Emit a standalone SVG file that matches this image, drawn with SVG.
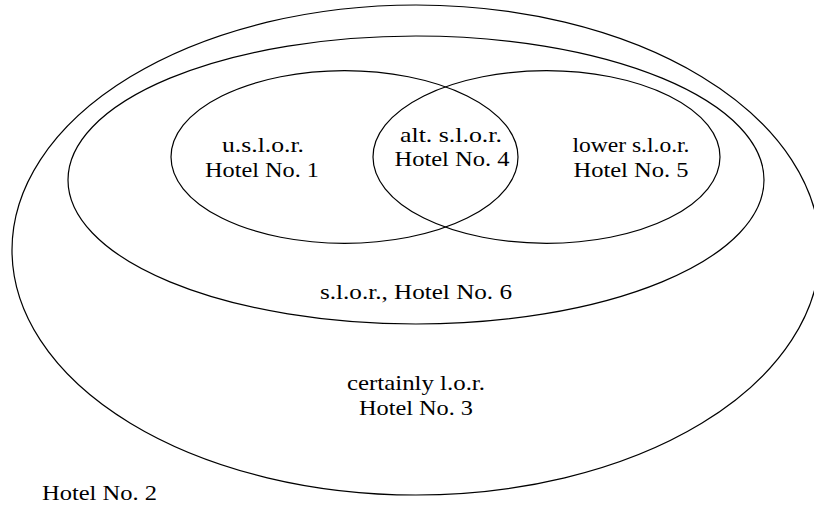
<svg xmlns="http://www.w3.org/2000/svg" width="814" height="509" viewBox="0 0 814 509">
<style>
.set{fill:none;stroke:#000;stroke-width:1.2}
.lbl{font-family:"Liberation Serif","DejaVu Serif",serif;font-size:21px;fill:#000;text-anchor:middle}
.lbl-start{font-family:"Liberation Serif","DejaVu Serif",serif;font-size:21px;fill:#000;text-anchor:start}
</style>
<rect x="0" y="0" width="814" height="509" fill="#fff"/>
<g id="hotel2">
<text class="lbl-start" x="42" y="500" textLength="115" lengthAdjust="spacingAndGlyphs">Hotel No. 2</text>
</g>
<g id="hotel3">
<ellipse class="set" cx="416" cy="250" rx="404" ry="245"/>
<text class="lbl" x="416" y="390" textLength="138" lengthAdjust="spacingAndGlyphs">certainly l.o.r.</text>
<text class="lbl" x="416" y="415" textLength="114" lengthAdjust="spacingAndGlyphs">Hotel No. 3</text>
</g>
<g id="hotel6">
<ellipse class="set" cx="416" cy="180" rx="348" ry="144"/>
<text class="lbl" x="416" y="299" textLength="192" lengthAdjust="spacingAndGlyphs">s.l.o.r., Hotel No. 6</text>
</g>
<g id="hotel1">
<ellipse class="set" cx="344.5" cy="157" rx="173.5" ry="86.3"/>
<text class="lbl" x="263" y="152" textLength="82" lengthAdjust="spacingAndGlyphs">u.s.l.o.r.</text>
<text class="lbl" x="262" y="177" textLength="114" lengthAdjust="spacingAndGlyphs">Hotel No. 1</text>
</g>
<g id="hotel5">
<ellipse class="set" cx="546.5" cy="157" rx="173.5" ry="86.3"/>
<text class="lbl" x="631" y="152" textLength="117" lengthAdjust="spacingAndGlyphs">lower s.l.o.r.</text>
<text class="lbl" x="631" y="176.5" textLength="115" lengthAdjust="spacingAndGlyphs">Hotel No. 5</text>
</g>
<g id="hotel4">
<text class="lbl" x="451" y="142" textLength="102" lengthAdjust="spacingAndGlyphs">alt. s.l.o.r.</text>
<text class="lbl" x="452" y="166" textLength="115" lengthAdjust="spacingAndGlyphs">Hotel No. 4</text>
</g>
<g id="connectors"></g>
</svg>
